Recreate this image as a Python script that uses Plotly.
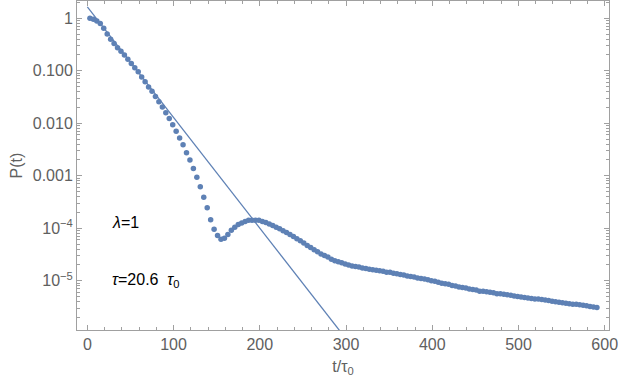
import plotly.graph_objects as go

# sample times (t / tau0)
t = [
    3, 7, 11, 15, 19, 23, 27, 31, 35, 39, 43, 47, 51, 55, 59, 63, 67, 71, 75, 79,
    83, 87, 91, 95, 99, 103, 107, 111, 115, 119, 123, 127, 131, 135, 139, 143, 147, 151, 155, 159,
    163, 167, 171, 175, 179, 183, 187, 191, 195, 199, 203, 207, 211, 215, 219, 223, 227, 231, 235, 239,
    243, 247, 251, 255, 259, 263, 267, 271, 275, 279, 283, 287, 291, 295, 299, 303, 307, 311, 315, 319,
    323, 327, 331, 335, 339, 343, 347, 351, 355, 359, 363, 367, 371, 375, 379, 383, 387, 391, 395, 399,
    403, 407, 411, 415, 419, 423, 427, 431, 435, 439, 443, 447, 451, 455, 459, 463, 467, 471, 475, 479,
    483, 487, 491, 495, 499, 503, 507, 511, 515, 519, 523, 527, 531, 535, 539, 543, 547, 551, 555, 559,
    563, 567, 571, 575, 579, 583, 587, 591,
]

# log10 P(t)
log_p = [
    0.00, -0.02, -0.05, -0.10, -0.19, -0.30, -0.40, -0.48, -0.56, -0.63,
    -0.70, -0.78, -0.86, -0.94, -1.02, -1.12, -1.21, -1.31, -1.39, -1.49,
    -1.59, -1.69, -1.80, -1.91, -2.03, -2.15, -2.28, -2.41, -2.56, -2.70,
    -2.86, -3.03, -3.21, -3.41, -3.61, -3.84, -4.02, -4.14, -4.21, -4.19,
    -4.12, -4.04, -3.98, -3.93, -3.90, -3.87, -3.85, -3.85, -3.85, -3.85,
    -3.87, -3.89, -3.92, -3.95, -3.98, -4.01, -4.05, -4.08, -4.12, -4.16,
    -4.20, -4.24, -4.28, -4.33, -4.37, -4.41, -4.45, -4.49, -4.52, -4.55,
    -4.59, -4.62, -4.64, -4.66, -4.68, -4.70, -4.72, -4.73, -4.74, -4.76,
    -4.77, -4.78, -4.79, -4.80, -4.81, -4.82, -4.84, -4.84, -4.86, -4.87,
    -4.88, -4.89, -4.91, -4.92, -4.93, -4.95, -4.96, -4.97, -4.98, -5.00,
    -5.01, -5.03, -5.05, -5.06, -5.07, -5.09, -5.10, -5.12, -5.13, -5.14,
    -5.16, -5.17, -5.18, -5.20, -5.20, -5.21, -5.22, -5.23, -5.25, -5.25,
    -5.26, -5.27, -5.28, -5.29, -5.30, -5.31, -5.32, -5.33, -5.34, -5.35,
    -5.35, -5.36, -5.37, -5.38, -5.39, -5.40, -5.41, -5.42, -5.43, -5.44,
    -5.45, -5.45, -5.46, -5.47, -5.48, -5.49, -5.50, -5.51,
]
p = [10 ** v for v in log_p]

# exponential fit, tau = 20.6 tau0 (straight on the log axis)
fit_t = [0, 300]
fit_p = [1.65, 7.8e-7]

ytick_vals = [1, 0.1, 0.01, 0.001, 1e-4, 1e-5]
ytick_text = ["1", "0.100", "0.010", "0.001", "10<sup>\u22124</sup>", "10<sup>\u22125</sup>"]
xtick_vals = [0, 100, 200, 300, 400, 500, 600]

blue = "#5E81B5"
gray = "#a0a0a0"
txt = "#606060"

fig = go.Figure()
fig.add_trace(go.Scatter(
    x=fit_t, y=fit_p, mode="lines",
    line=dict(color=blue, width=1.3), showlegend=False, hoverinfo="skip",
))
fig.add_trace(go.Scatter(
    x=t, y=p, mode="markers",
    marker=dict(color=blue, size=5.5, line=dict(width=0)),
    showlegend=False,
))

fig.add_annotation(x=26, y=-3.89, xref="x", yref="y", text="<i>\u03bb</i>=1",
                   showarrow=False, xanchor="left", font=dict(size=16, color="black"))
fig.add_annotation(x=26, y=-4.99, xref="x", yref="y",
                   text="<i>\u03c4</i>=20.6  <i>\u03c4</i><sub>0</sub>",
                   showarrow=False, xanchor="left", font=dict(size=16, color="black"))

fig.update_xaxes(
    range=[-12, 605], tickvals=xtick_vals, showgrid=False, zeroline=False,
    showline=True, linecolor=gray, linewidth=1, mirror="allticks",
    ticks="inside", ticklen=5, tickcolor=gray, automargin=False,
    minor=dict(ticks="inside", ticklen=3, tickcolor=gray, dtick=20),
    tickfont=dict(size=16, color=txt),
    title=dict(text="t/\u03c4<sub>0</sub>", font=dict(size=16, color=txt), standoff=8),
)
fig.update_yaxes(
    type="log", range=[-5.94, 0.33], tickvals=ytick_vals, ticktext=ytick_text,
    showgrid=False, zeroline=False,
    showline=True, linecolor=gray, linewidth=1, mirror="allticks",
    ticks="inside", ticklen=5, tickcolor=gray, automargin=False,
    minor=dict(ticks="inside", ticklen=3, tickcolor=gray, dtick="D1"),
    tickfont=dict(size=16, color=txt),
    title=dict(text="P(t)", font=dict(size=16, color=txt), standoff=6),
)

fig.update_layout(
    width=622, height=382,
    margin=dict(l=77, r=13, t=1, b=52),
    plot_bgcolor="white", paper_bgcolor="white",
    font=dict(family="Liberation Sans, Arial, sans-serif"),
)

# the page body has an 8px default margin; drop it so the figure sits at 0,0
fig.write_html("out.html", config={"displayModeBar": False},
               post_script="document.body.style.margin='0px';")
